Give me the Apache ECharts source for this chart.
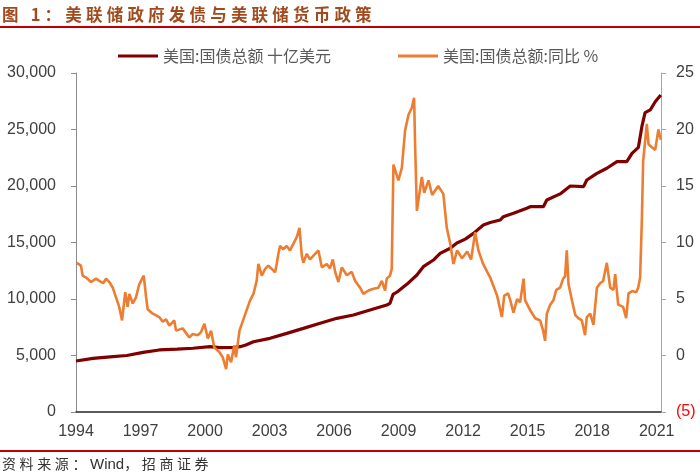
<!DOCTYPE html>
<html>
<head>
<meta charset="utf-8">
<script src="https://cdn.jsdelivr.net/npm/echarts@6/dist/echarts.min.js"></script>
<style>
  html, body { margin: 0; padding: 0; background: #fff; }
  #wrap { position: relative; width: 700px; height: 474px; overflow: hidden; }
  #chart { position: absolute; left: 0; top: 0; width: 700px; height: 474px; }
  .cap { position: absolute; left: 2px; font-family: "Noto Sans CJK SC", sans-serif; white-space: nowrap; }
  #title { top: 3px; font-size: 16.5px; font-weight: bold; color: #A04A1E; letter-spacing: 4.2px; line-height: 22px; }
  #source { top: 454px; font-size: 14px; color: #333; line-height: 18px; }
  #source .cj { letter-spacing: 3.6px; }
  #source .en { font-family: "Liberation Sans", Arial, sans-serif; font-size: 15px; }
  .rule { position: absolute; left: 0; width: 700px; height: 1.5px; background: #C00000; }
</style>
</head>
<body>
<div id="wrap">
  <div id="chart"></div>
  <div id="title" class="cap">图 1：美联储政府发债与美联储货币政策</div>
  <div class="rule" style="top:26px"></div>
  <div class="rule" style="top:450px"></div>
  <div id="source" class="cap"><span class="cj">资料来源：</span><span class="en">Wind</span><span class="cj">，招商证券</span></div>
</div>
<script>
// 美国国债总额（十亿美元），按年份小数取点
const debtYears = [
  1994.0, 1994.79, 1995.58, 1996.36, 1997.12, 1997.87, 1998.70, 1999.44, 2000.23, 2000.70,
  2001.40, 2001.63, 2001.90, 2002.25, 2003.02, 2003.80, 2004.57, 2005.35, 2006.13, 2006.90,
  2007.67, 2008.45, 2008.60, 2008.74, 2008.93, 2009.38, 2009.85, 2010.15, 2010.62, 2010.93,
  2011.40, 2011.71, 2012.10, 2012.48, 2012.94, 2013.26, 2013.72, 2013.87, 2014.34, 2014.96,
  2015.12, 2015.73, 2015.89, 2016.51, 2016.98, 2017.60, 2017.75, 2018.22, 2018.68, 2019.15,
  2019.61, 2019.85, 2020.15, 2020.31, 2020.46, 2020.70, 2020.93, 2021.19
];
const debtValues = [
  4514, 4750, 4880, 5000, 5280, 5490, 5560, 5640, 5780, 5700,
  5720, 5780, 5930, 6220, 6520, 6960, 7400, 7850, 8290, 8580,
  9030, 9470, 9620, 10400, 10620, 11300, 12120, 12860, 13450, 14040,
  14490, 14950, 15300, 15810, 16550, 16770, 16990, 17280, 17580, 18030,
  18170, 18170, 18760, 19300, 20000, 19940, 20530, 21120, 21570, 22150,
  22150, 22890, 23420, 25250, 26490, 26730, 27460, 28050
];

// 美国国债总额同比（%）
const yoyYears = [
  1994.03, 1994.08, 1994.23, 1994.31, 1994.47, 1994.70, 1994.93, 1995.08, 1995.26, 1995.40,
  1995.55, 1995.71, 1995.86, 1996.01, 1996.14, 1996.29, 1996.40, 1996.48, 1996.64, 1996.79,
  1996.94, 1997.15, 1997.26, 1997.33, 1997.57, 1997.87, 1998.03, 1998.19, 1998.34, 1998.57,
  1998.65, 1998.96, 1999.27, 1999.43, 1999.66, 1999.81, 1999.97, 2000.13, 2000.28, 2000.43,
  2000.67, 2000.82, 2000.98, 2001.06, 2001.21, 2001.36, 2001.44, 2001.60, 2002.09, 2002.25,
  2002.40, 2002.48, 2002.64, 2002.79, 2002.94, 2003.10, 2003.26, 2003.33, 2003.41, 2003.49,
  2003.64, 2003.80, 2003.95, 2004.11, 2004.27, 2004.39, 2004.50, 2004.57, 2004.73, 2004.88,
  2005.12, 2005.27, 2005.43, 2005.66, 2005.81, 2005.94, 2006.05, 2006.20, 2006.36, 2006.59,
  2006.82, 2006.98, 2007.21, 2007.36, 2007.60, 2007.83, 2008.06, 2008.22, 2008.37, 2008.45,
  2008.60, 2008.68, 2008.76, 2008.84, 2008.99, 2009.15, 2009.30, 2009.46, 2009.61, 2009.72,
  2009.77, 2009.85, 2009.92, 2010.08, 2010.19, 2010.39, 2010.56, 2010.84, 2011.08, 2011.24,
  2011.40, 2011.55, 2011.72, 2011.95, 2012.19, 2012.37, 2012.56, 2012.71, 2012.93, 2013.12,
  2013.26, 2013.40, 2013.58, 2013.80, 2013.91, 2014.09, 2014.19, 2014.34, 2014.51, 2014.65,
  2014.81, 2014.88, 2015.12, 2015.35, 2015.58, 2015.72, 2015.81, 2015.89, 2016.05, 2016.20,
  2016.33, 2016.51, 2016.65, 2016.74, 2016.82, 2016.90, 2017.07, 2017.21, 2017.35, 2017.52,
  2017.67, 2017.75, 2017.91, 2018.06, 2018.22, 2018.37, 2018.51, 2018.68, 2018.84, 2018.99,
  2019.07, 2019.21, 2019.44, 2019.58, 2019.69, 2019.86, 2020.05, 2020.14, 2020.23, 2020.31,
  2020.37, 2020.54, 2020.62, 2020.79, 2020.93, 2021.08, 2021.19
];
const yoyValues = [
  8.2, 8.1, 7.95, 7.07, 6.9, 6.5, 6.8, 6.6, 6.4, 6.8,
  6.5, 6.0, 5.15, 4.3, 3.1, 5.6, 4.3, 5.45, 4.6, 5.15,
  6.3, 7.07, 5.15, 4.1, 3.7, 3.4, 3.0, 3.2, 2.65, 3.1,
  2.2, 2.4, 1.6, 1.9, 1.8, 2.05, 2.8, 1.5, 2.2, 0.7,
  0.3, -0.15, -1.2, 0.1, -0.6, 0.9, -0.15, 2.2, 4.86, 5.45,
  6.6, 8.1, 7.07, 7.66, 7.95, 7.66, 7.36, 8.1, 9.0, 9.7,
  9.4, 9.7, 9.3, 9.9, 10.5, 11.3, 8.8, 8.2, 9.0, 8.5,
  9.0, 9.3, 7.8, 8.1, 7.7, 8.5, 7.4, 6.5, 7.8, 7.1,
  7.4, 6.6, 6.0, 5.45, 5.75, 5.9, 6.0, 6.6, 5.75, 6.8,
  7.07, 7.66, 16.9, 16.9, 15.5, 16.6, 19.9, 21.3, 21.9, 22.8,
  18.4, 12.8, 12.7, 15.8, 14.4, 15.5, 14.2, 15.0, 14.3, 11.3,
  9.9, 8.1, 9.3, 8.6, 9.2, 8.5, 10.9, 9.3, 8.1, 7.4,
  6.9, 6.2, 5.3, 3.4, 5.3, 5.5, 4.9, 3.8, 5.0, 4.7,
  6.8, 4.9, 4.0, 3.3, 3.1, 2.2, 1.3, 3.7, 4.5, 4.9,
  5.8, 6.0, 6.8, 7.0, 9.3, 6.3, 4.8, 3.6, 3.3, 3.1,
  1.8, 3.4, 3.7, 2.7, 6.0, 6.4, 6.6, 8.2, 6.0, 5.8,
  7.2, 4.5, 4.3, 3.3, 5.5, 5.7, 5.6, 6.0, 6.9, 12.0,
  17.2, 20.5, 18.7, 18.4, 18.2, 20.0, 19.1
];

const xTickLabels = [1994, 1997, 2000, 2003, 2006, 2009, 2012, 2015, 2018, 2021];
const seriesNames = ['美国:国债总额 十亿美元', '美国:国债总额:同比 %'];

const zip = (xs, ys) => xs.map((x, i) => [x, ys[i]]);

const labelFont = {
  fontFamily: '"Liberation Sans", Arial, sans-serif',
  fontSize: 16,
  color: '#404040'
};
const legendText = {
  fontFamily: '"Noto Sans CJK SC", sans-serif',
  fontSize: 16,
  color: '#595959'
};

const chart = echarts.init(document.getElementById('chart'), null, { renderer: 'canvas' });

chart.setOption({
  animation: false,
  backgroundColor: '#fff',
  grid: { left: 76, right: 39, top: 73, bottom: 62 },
  legend: [{
    data: [seriesNames[0]],
    left: 113, top: 43,
    icon: 'rect', itemWidth: 40, itemHeight: 3,
    textStyle: legendText
  }, {
    data: [seriesNames[1]],
    left: 393, top: 43,
    icon: 'rect', itemWidth: 40, itemHeight: 3,
    textStyle: legendText
  }],
  xAxis: {
    type: 'value',
    min: 1994,
    max: 2021.2,
    splitLine: { show: false },
    axisLine: { onZero: false, lineStyle: { color: '#262626', width: 1.5 } },
    axisTick: { show: false },
    axisLabel: Object.assign({
      customValues: xTickLabels,
      margin: 12,
      formatter: v => String(Math.round(v))
    }, labelFont)
  },
  yAxis: [{
    type: 'value',
    min: 0, max: 30000, interval: 5000,
    splitLine: { show: false },
    axisLine: { show: true, lineStyle: { color: '#8C8C8C', width: 1 } },
    axisTick: { show: true, length: 5, lineStyle: { color: '#8C8C8C' } },
    axisLabel: Object.assign({
      margin: 20,
      formatter: v => v.toLocaleString('en-US')
    }, labelFont)
  }, {
    type: 'value',
    min: -5, max: 25, interval: 5,
    splitLine: { show: false },
    axisLine: { show: true, lineStyle: { color: '#A6A6A6', width: 1 } },
    axisTick: { show: true, length: 5, lineStyle: { color: '#A6A6A6' } },
    axisLabel: Object.assign({}, labelFont, {
      margin: 15,
      formatter: v => v < 0 ? '(' + (-v) + ')' : String(v),
      color: v => (Number(v) < 0 ? '#FF0000' : '#404040')
    })
  }],
  series: [{
    name: seriesNames[0],
    type: 'line',
    yAxisIndex: 0,
    data: zip(debtYears, debtValues),
    showSymbol: false,
    symbol: 'none',
    z: 2,
    lineStyle: { color: '#800000', width: 3.2 },
    itemStyle: { color: '#800000' }
  }, {
    name: seriesNames[1],
    type: 'line',
    yAxisIndex: 1,
    data: zip(yoyYears, yoyValues),
    showSymbol: false,
    symbol: 'none',
    z: 3,
    lineStyle: { color: '#ED7D31', width: 2.6 },
    itemStyle: { color: '#ED7D31' }
  }]
});
</script>
</body>
</html>
